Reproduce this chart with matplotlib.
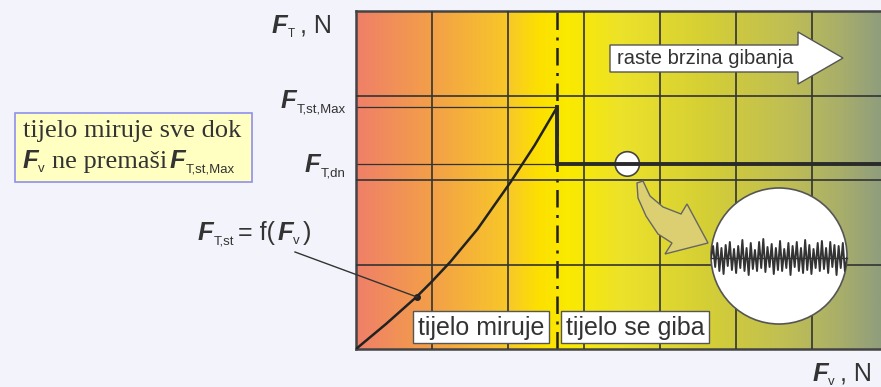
import numpy as np
import matplotlib
matplotlib.use('Agg')
import matplotlib.pyplot as plt
from matplotlib.colors import LinearSegmentedColormap
from matplotlib.patches import Polygon, Circle, Rectangle, Ellipse

# --- data (grid units) ---
curve_x = [0, 0.4, 0.8, 1.0, 1.24, 1.6, 2.03, 2.35, 2.645]
curve_y = [0, 0.3, 0.62, 0.8, 1.03, 1.42, 1.97, 2.41, 2.86]
peak_x = 2.645
peak_y = 2.86
dn_y = 2.19
x_max = 6.908
y_max = 4.0

grad_pos = [0, 1.0, 2.0, 2.4, 2.8, 3.5, 4.6, 5.7, 6.4, 6.908]
grad_col = ['#ef8068', '#f3a048', '#f8c828', '#fde000', '#faea00',
            '#ece22a', '#d5cf35', '#bfbe55', '#a8ae6a', '#909e7c']

# roughness trace shown in the magnifier (px offsets)
zig = [0, 12, -9, 15, -13, 10, -16, 13, -8, 16, -12, 9, -15, 12, -10, 18, -13, 10,
       -17, 15, -11, 8, -13, 16, -10, 19, -14, 11, -9, 14, -16, 10, -12, 17, -13, 9,
       -10, 15, -17, 12, -9, 16, -13, 10, -15, 18, -12, 13, -16, 9, -10, 15, -13, 17,
       -11, 10, -15, 16, -9, 13, -17, 12, -10, 15, -13, 0]

TXT = '#333333'
SANS = 'Liberation Sans'
SERIF = 'Liberation Serif'

fig = plt.figure(figsize=(8.81, 3.87), dpi=100, facecolor='#f3f3fb')
ax = fig.add_axes([356 / 881, 38 / 387, 525 / 881, 338 / 387])

cmap = LinearSegmentedColormap.from_list('bg', list(zip(np.array(grad_pos) / x_max, grad_col)))
ax.imshow(np.linspace(0, 1, 600)[None, :], cmap=cmap, aspect='auto',
          extent=[0, x_max, 0, y_max], zorder=0)
ax.set_xlim(0, x_max)
ax.set_ylim(0, y_max)
ax.set_xticks(range(1, 7))
ax.set_yticks([1, 2, 3])
ax.tick_params(length=0, labelbottom=False, labelleft=False)
ax.grid(color='#333333', lw=1.2, zorder=1)
ax.set_axisbelow(False)
for s in ['left', 'top', 'bottom']:
    ax.spines[s].set_color('#444444')
    ax.spines[s].set_linewidth(1.8)
ax.spines['right'].set_visible(False)

# curves
ax.plot([0, peak_x], [peak_y, peak_y], color='#333333', lw=0.9, zorder=2)
ax.plot([0, peak_x], [dn_y, dn_y], color='#333333', lw=0.9, zorder=2)
ax.plot([peak_x, peak_x], [0, y_max], color='#222222', lw=1.8, dashes=(7, 3, 1.2, 3), zorder=2)
ax.plot(curve_x, curve_y, color='#222222', lw=1.8, zorder=3)
ax.plot(curve_x[2], curve_y[2], 'o', ms=4, color='#222222', zorder=3)
ax.add_patch(Ellipse((3.57, dn_y), 0.32, 0.29, fc='white', ec='#444444', lw=1.2, zorder=3))
ax.plot([peak_x, peak_x, x_max], [peak_y, dn_y, dn_y], color='#2a2a2a', lw=2.8,
        solid_joinstyle='miter', zorder=4)

# overlay in pixel coordinates for annotations
ov = fig.add_axes([0, 0, 1, 1])
ov.set_xlim(0, 881)
ov.set_ylim(387, 0)
ov.axis('off')
ov.patch.set_alpha(0)


def ftext(x, y, sub, size=18.5, subsize=9.5):
    ov.text(x, y, 'F', fontsize=size, fontweight='bold', fontstyle='italic',
            family=SANS, color=TXT, va='baseline')
    if sub:
        ov.text(x + size * 1.389 * 0.6, y + 4, sub, fontsize=subsize, family=SANS,
                color=TXT, va='baseline')


ftext(272, 33, 'T', subsize=8.5)
ov.text(300, 33, ', N', fontsize=18, family=SANS, color=TXT, va='baseline')
ftext(281, 108, 'T,st,Max')
ftext(305, 172, 'T,dn')
ftext(813, 381, 'v')
ov.text(840, 381, ', N', fontsize=18, family=SANS, color=TXT, va='baseline')

# F_T,st = f(F_v)
ftext(198, 240, 'T,st')
ov.text(238, 240, '= f(', fontsize=18, family=SANS, color=TXT, va='baseline')
ftext(278, 240, 'v')
ov.text(303, 240, ')', fontsize=18, family=SANS, color=TXT, va='baseline')
ov.plot([295, 417], [252, 297], color='#333333', lw=1)

# left note box
ov.add_patch(Rectangle((15, 113), 237, 69, fc='#ffffc2', ec='#8f8fef', lw=1.2))
ov.text(23, 137, 'tijelo miruje sve dok', fontsize=19, family=SERIF, color=TXT, va='baseline')
ftext(23, 168, 'v')
ov.text(52, 168, 'ne premaši', fontsize=19, family=SERIF, color=TXT, va='baseline')
ftext(170, 168, 'T,st,Max')

# state boxes
for x0, w, label in [(413, 136, 'tijelo miruje'), (561, 148, 'tijelo se giba')]:
    ov.add_patch(Rectangle((x0, 311), w, 32, fc='white', ec='#555555', lw=1, zorder=5))
    ov.text(x0 + w / 2, 328, label, fontsize=18, family=SANS, color=TXT,
            ha='center', va='center', zorder=6)

# speed arrow
ov.add_patch(Polygon([(610, 45), (798, 45), (798, 32), (843, 58), (798, 84), (798, 72), (610, 72)],
                     closed=True, fc='white', ec='#555555', lw=1))
ov.text(617, 59, 'raste brzina gibanja', fontsize=14.5, family=SANS, color=TXT, va='center')

# curved pointer
ov.add_patch(Polygon([(637, 183), (643, 181), (650, 196), (663, 207), (681, 214), (687, 204),
                      (708, 243), (665, 254), (672, 243), (658, 234), (646, 216), (638, 198)],
                     closed=True, fc='#dccf72', ec='#666666', lw=1))

# magnifier
mag = Circle((779, 256), 68, fc='white', ec='#555555', lw=1.2)
ov.add_patch(mag)
ov.plot([711, 847], [258, 258], color='#333333', lw=1)
zx = np.linspace(711, 847, len(zig))
zl, = ov.plot(zx, 258 - np.array(zig), color='#333333', lw=1.4)
zl.set_clip_path(mag)

fig.savefig('out.png', dpi=100, facecolor=fig.get_facecolor())
